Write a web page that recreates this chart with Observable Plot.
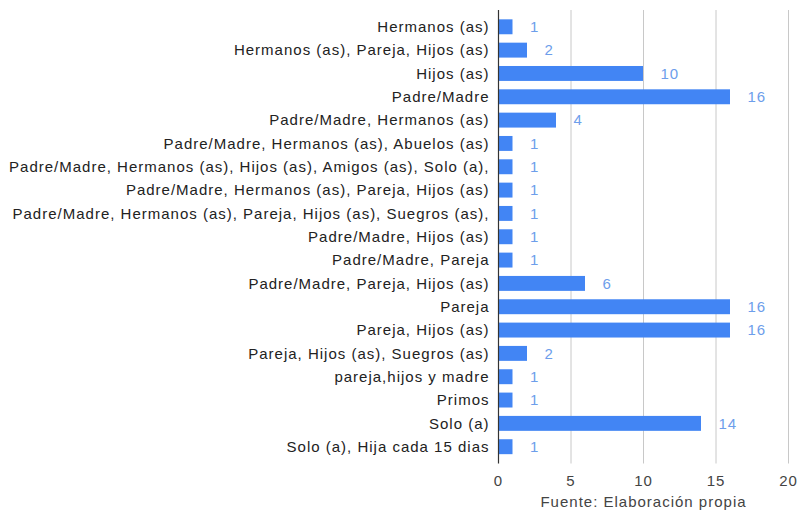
<!DOCTYPE html>
<html>
<head>
<meta charset="utf-8">
<script src="https://cdn.jsdelivr.net/npm/d3@7"></script>
<script src="https://cdn.jsdelivr.net/npm/@observablehq/plot@0.6"></script>
<style>
  html, body { margin: 0; padding: 0; background: #fff; }
  #chart { width: 801px; height: 512px; }
  #chart svg text { letter-spacing: 1px; }
</style>
</head>
<body>
<div id="chart"></div>
<script>
const categories = [
  "Hermanos (as)",
  "Hermanos (as), Pareja, Hijos (as)",
  "Hijos (as)",
  "Padre/Madre",
  "Padre/Madre, Hermanos (as)",
  "Padre/Madre, Hermanos (as), Abuelos (as)",
  "Padre/Madre, Hermanos (as), Hijos (as), Amigos (as), Solo (a),",
  "Padre/Madre, Hermanos (as), Pareja, Hijos (as)",
  "Padre/Madre, Hermanos (as), Pareja, Hijos (as), Suegros (as),",
  "Padre/Madre, Hijos (as)",
  "Padre/Madre, Pareja",
  "Padre/Madre, Pareja, Hijos (as)",
  "Pareja",
  "Pareja, Hijos (as)",
  "Pareja, Hijos (as), Suegros (as)",
  "pareja,hijos y madre",
  "Primos",
  "Solo (a)",
  "Solo (a), Hija cada 15 dias"
];
const values = [1, 2, 10, 16, 4, 1, 1, 1, 1, 1, 1, 6, 16, 16, 2, 1, 1, 14, 1];
const xTicks = [0, 5, 10, 15, 20];
const caption = "Fuente: Elaboración propia";

const data = categories.map((c, i) => ({category: c, value: values[i]}));

const chart = Plot.plot({
  width: 801,
  height: 512,
  marginLeft: 498,
  marginRight: 13,
  marginTop: 10,
  marginBottom: 48.5,
  style: {fontFamily: "'Liberation Sans', Arial, sans-serif", fontSize: "15px", color: "#222", background: "#fff"},
  x: {domain: [0, 20], ticks: xTicks, label: caption, labelAnchor: "center", labelArrow: "none", labelOffset: 43},
  y: {domain: categories, label: null, paddingInner: 0.36, paddingOuter: 0.4, round: false},
  marks: [
    Plot.gridX(xTicks.slice(1), {stroke: "#c8c8c8", strokeOpacity: 1}),
    Plot.barX(data, {x: "value", y: "category", fill: "#4285f4"}),
    Plot.ruleX([0], {stroke: "#333", strokeWidth: 1.2}),
    Plot.text(data, {x: "value", y: "category", text: d => String(d.value), textAnchor: "start", dx: 17, fill: "#6d9eeb", fontSize: 15}),
    Plot.axisY({tickSize: 0, tickPadding: 9, label: null, fill: "#222", fontSize: 15}),
    Plot.axisX({ticks: xTicks, tickSize: 0, tickPadding: 11, fill: "#444", fontSize: 15, label: caption, labelAnchor: "center", labelArrow: "none", labelOffset: 43})
  ]
});
document.getElementById("chart").appendChild(chart);
</script>
</body>
</html>
